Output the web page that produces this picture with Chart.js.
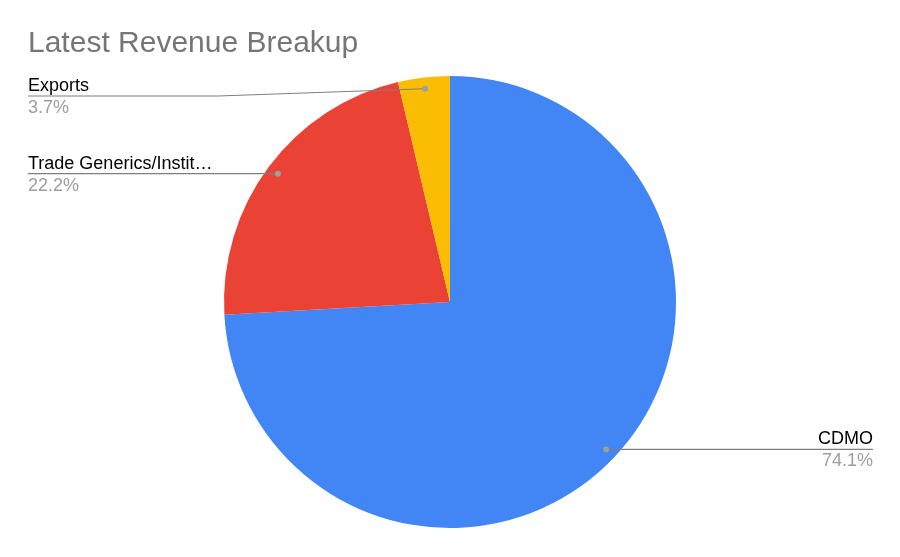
<!DOCTYPE html>
<html>
<head>
<meta charset="utf-8">
<title>Latest Revenue Breakup</title>
<script src="https://cdn.jsdelivr.net/npm/chart.js@4"></script>
<style>
  html, body { margin: 0; padding: 0; background: #fff; }
  #wrap { width: 900px; height: 557px; position: relative; }
</style>
</head>
<body>
<div id="wrap"><canvas id="chart" width="900" height="557"></canvas></div>
<script>
"use strict";

// data (percent of revenue)
const TITLE = "Latest Revenue Breakup";
const categories = ["CDMO", "Trade Generics/Institutional", "Exports"];
const shares = [74.1, 22.2, 3.7];
const colors = ["#4285f4", "#ea4335", "#fbbc04"];

const FONT = "Arial, 'Liberation Sans', sans-serif";

/* ---------- helpers ---------- */
function fitText(ctx, text, maxW) {
  if (ctx.measureText(text).width <= maxW) return text;
  let s = text;
  while (s.length > 1 && ctx.measureText(s + "\u2026").width > maxW) s = s.slice(0, -1);
  return s + "\u2026";
}

/* ---------- title + leader-line labels ---------- */
const calloutPlugin = {
  id: "callouts",
  afterDatasetsDraw(chart) {
    const ctx = chart.ctx;
    const meta = chart.getDatasetMeta(0);
    const data = chart.data.datasets[0].data;
    const total = data.reduce((a, b) => a + b, 0);

    ctx.save();
    ctx.font = "30px " + FONT;
    ctx.fillStyle = "#757575";
    ctx.textBaseline = "alphabetic";
    ctx.textAlign = "left";
    ctx.fillText(TITLE, 28, 52);

    meta.data.forEach((arc, i) => {
      const p = arc.getProps(["x", "y", "startAngle", "endAngle", "outerRadius"], true);
      const mid = (p.startAngle + p.endAngle) / 2;
      const dx = p.x + Math.cos(mid) * p.outerRadius * 0.95;
      const dy = p.y + Math.sin(mid) * p.outerRadius * 0.95;
      const right = Math.cos(mid) > 0;
      const lineY = Math.max(dy, 96);
      const endX = right ? 873 : 28;
      const bendX = right ? 682 : 218;

      ctx.strokeStyle = "#7f7f7f";
      ctx.lineWidth = 1.2;
      ctx.beginPath();
      ctx.moveTo(dx, dy);
      if (Math.abs(lineY - dy) > 0.5) ctx.lineTo(bendX, lineY);
      ctx.lineTo(endX, lineY);
      ctx.stroke();

      ctx.fillStyle = "#9e9e9e";
      ctx.beginPath();
      ctx.arc(dx, dy, 3, 0, Math.PI * 2);
      ctx.fill();

      ctx.textAlign = right ? "right" : "left";
      ctx.font = "18px " + FONT;
      ctx.fillStyle = "#000";
      ctx.fillText(fitText(ctx, chart.data.labels[i], 190), endX, lineY - 5);
      ctx.fillStyle = "#9e9e9e";
      ctx.fillText((data[i] / total * 100).toFixed(1) + "%", endX, lineY + 17);
    });
    ctx.restore();
  },
};

new Chart(document.getElementById("chart"), {
  type: "pie",
  data: {
    labels: categories,
    datasets: [{
      data: shares,
      backgroundColor: colors,
      borderWidth: 0,
      hoverOffset: 0,
    }],
  },
  options: {
    responsive: false,
    animation: false,
    devicePixelRatio: 1,
    layout: { padding: { top: 76, bottom: 29, left: 0, right: 0 } },
    plugins: { legend: { display: false }, tooltip: { enabled: false }, title: { display: false } },
  },
  plugins: [calloutPlugin],
});
</script>
</body>
</html>
